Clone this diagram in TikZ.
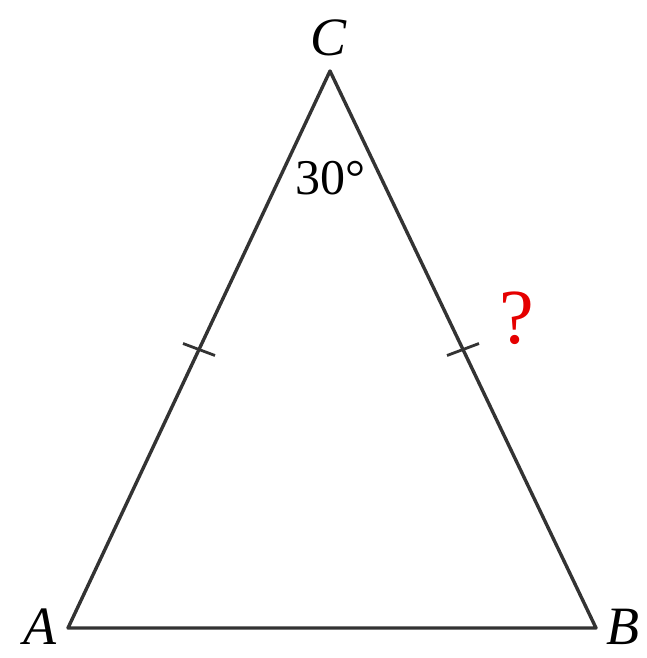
\documentclass[tikz,border=0pt]{standalone}
\usepackage{fontspec}
\setmainfont{Liberation Serif}
\usetikzlibrary{calc}
\begin{document}
\begin{tikzpicture}[x=1pt,y=-1pt,
  side/.style={line width=3.4pt,draw=black!80,line join=round},
  tick/.style={line width=2.8pt,draw=black!80},
  lbl/.style={font=\fontsize{54}{56}\selectfont\itshape,inner sep=0pt}]
\useasboundingbox (0,0) rectangle (646,658);
\coordinate (A) at (68,628);
\coordinate (B) at (596,628);
\coordinate (C) at (330,71);
\draw[side] (A) -- (B) -- (C) -- cycle;
\path (A) -- (C) coordinate[pos=0.5] (mAC);
\path (B) -- (C) coordinate[pos=0.5] (mBC);
\draw[tick] ($(mAC)+(-16,-6)$) -- ($(mAC)+(16,6)$);
\draw[tick] ($(mBC)+(-16,6)$) -- ($(mBC)+(16,-6)$);
\node[lbl] (lC) at (329,38) {C};
\node[lbl,anchor=base] (lA) at (40,644) {A};
\node[lbl,anchor=base] (lB) at (623,644) {B};
\node[inner sep=0pt,font=\fontsize{50}{52}\selectfont] (ang) at (330,178) {30°};
\node[inner sep=0pt,text=red!90!black,font=\fontsize{78}{80}\selectfont] (q) at (517,318) {?};
\end{tikzpicture}
\end{document}
